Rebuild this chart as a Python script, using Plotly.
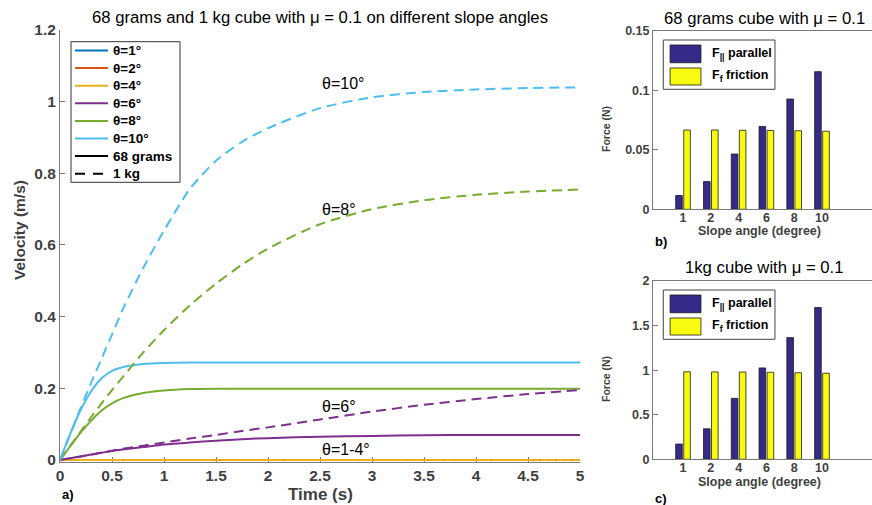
import plotly.graph_objects as go

W, H = 872, 505
FONT = "Liberation Sans, Arial, Helvetica, sans-serif"
AXIS_GREY = "#7a7a7a"
LABEL_GREY = "#3f3f3f"

# ---- Velocity vs time (panel a) ----
time_s = [0, 0.1, 0.2, 0.3, 0.4, 0.5, 0.6, 0.8, 1.0, 1.25, 1.5, 1.75,
          2.0, 2.5, 3.0, 3.5, 4.0, 4.5, 5.0]

angles = [1, 2, 4, 6, 8, 10]
angle_colors = ["#0072BD", "#D95319", "#EDB120", "#7E2F8E", "#77AC30", "#4DBEEE"]

# 68 gram cube
v68_1 = [0, 0, 0, 0, 0, 0, 0, 0, 0, 0, 0, 0, 0, 0, 0, 0, 0, 0, 0]
v68_2 = [0, 0, 0, 0, 0, 0, 0, 0, 0, 0, 0, 0, 0, 0, 0, 0, 0, 0, 0]
v68_4 = [0, 0, 0, 0, 0, 0, 0, 0, 0, 0, 0, 0, 0, 0, 0, 0, 0, 0, 0]
v68_6 = [0, 0.005, 0.010, 0.015, 0.020, 0.025, 0.029, 0.036, 0.043, 0.049,
         0.054, 0.058, 0.061, 0.065, 0.067, 0.069, 0.070, 0.070, 0.070]
v68_8 = [0, 0.039, 0.077, 0.110, 0.138, 0.158, 0.172, 0.187, 0.194, 0.198,
         0.199, 0.199, 0.199, 0.199, 0.199, 0.199, 0.199, 0.199, 0.199]
v68_10 = [0, 0.074, 0.140, 0.192, 0.228, 0.249, 0.259, 0.268, 0.271, 0.272,
          0.272, 0.272, 0.272, 0.272, 0.272, 0.272, 0.272, 0.272, 0.272]

# 1 kg cube
v1kg_1 = [0, 0, 0, 0, 0, 0, 0, 0, 0, 0, 0, 0, 0, 0, 0, 0, 0, 0, 0]
v1kg_2 = [0, 0, 0, 0, 0, 0, 0, 0, 0, 0, 0, 0, 0, 0, 0, 0, 0, 0, 0]
v1kg_4 = [0, 0, 0, 0, 0, 0, 0, 0, 0, 0, 0, 0, 0, 0, 0, 0, 0, 0, 0]
v1kg_6 = [0, 0.005, 0.010, 0.015, 0.021, 0.026, 0.031, 0.040, 0.049, 0.060,
          0.070, 0.081, 0.091, 0.113, 0.135, 0.154, 0.170, 0.184, 0.195]
v1kg_8 = [0, 0.040, 0.080, 0.120, 0.158, 0.195, 0.230, 0.300, 0.362, 0.432,
          0.492, 0.545, 0.590, 0.658, 0.700, 0.725, 0.740, 0.749, 0.755]
v1kg_10 = [0, 0.074, 0.146, 0.216, 0.283, 0.350, 0.418, 0.536, 0.640, 0.757,
           0.835, 0.888, 0.926, 0.982, 1.012, 1.027, 1.034, 1.038, 1.040]

v68_series = [v68_1, v68_2, v68_4, v68_6, v68_8, v68_10]
v1kg_series = [v1kg_1, v1kg_2, v1kg_4, v1kg_6, v1kg_8, v1kg_10]

# curve labels placed on the velocity plot
curve_label_text = ["θ=10°", "θ=8°", "θ=6°", "θ=1-4°"]
curve_label_t = [2.5, 2.5, 2.5, 2.5]
curve_label_v = [1.05, 0.70, 0.15, 0.03]

# legend entries of the velocity plot
legend_names = ["θ=1°", "θ=2°", "θ=4°", "θ=6°", "θ=8°", "θ=10°", "68 grams", "1 kg"]
legend_colors = angle_colors + ["black", "black"]
legend_dashes = ["solid"] * 6 + ["solid", "10px,8px"]

# ---- Forces per slope angle (panels b, c) ----
angle_labels = ["1", "2", "4", "6", "8", "10"]
f_par_68g = [0.0116, 0.0233, 0.0465, 0.0697, 0.0928, 0.1158]
f_fric_68g = [0.0667, 0.0667, 0.0665, 0.0663, 0.0661, 0.0657]
f_par_1kg = [0.171, 0.342, 0.684, 1.025, 1.365, 1.703]
f_fric_1kg = [0.981, 0.980, 0.979, 0.976, 0.971, 0.966]

BAR_NAVY = "#352A87"
BAR_YELLOW = "#F9FB0E"


def px_x(p):
    return p / W


def px_y(p):
    return 1 - p / H


fig = go.Figure()

# solid: 68 g cube
for ang, col, vals in zip(angles, angle_colors, v68_series):
    fig.add_trace(go.Scatter(
        x=time_s, y=vals, mode="lines", name=f"θ={ang}° (68 g)",
        line=dict(color=col, width=2, shape="spline", smoothing=0.7),
        showlegend=False, xaxis="x", yaxis="y"))

# dashed: 1 kg cube
for ang, col, vals in zip(angles, angle_colors, v1kg_series):
    fig.add_trace(go.Scatter(
        x=time_s, y=vals, mode="lines", name=f"θ={ang}° (1 kg)",
        line=dict(color=col, width=2, shape="spline", smoothing=0.7,
                  dash="10px,6px"),
        showlegend=False, xaxis="x", yaxis="y"))

# force bars
bar_line = dict(color="#1a1a1a", width=0.8)
for xa, ya, fpar, ffr in (("x2", "y2", f_par_68g, f_fric_68g),
                          ("x3", "y3", f_par_1kg, f_fric_1kg)):
    fig.add_trace(go.Bar(x=angle_labels, y=fpar, name="F parallel",
                         marker=dict(color=BAR_NAVY, line=bar_line),
                         showlegend=False, xaxis=xa, yaxis=ya))
    fig.add_trace(go.Bar(x=angle_labels, y=ffr, name="F friction",
                         marker=dict(color=BAR_YELLOW, line=bar_line),
                         showlegend=False, xaxis=xa, yaxis=ya))

tickfont_main = dict(family=FONT, size=15.5, color=LABEL_GREY, weight="bold")
tickfont_barx = dict(family=FONT, size=12.5, color=LABEL_GREY, weight="bold")
tickfont_bary = dict(family=FONT, size=12.5, color=LABEL_GREY, weight="bold")

common_axis = dict(showline=True, linecolor=AXIS_GREY, linewidth=1,
                   showgrid=False, zeroline=False, ticks="inside",
                   tickcolor=AXIS_GREY, ticklen=5, tickwidth=1,
                   automargin=False)

bar_xaxis = dict(range=[-1.08, 6.8], type="category", mirror=True,
                 showline=True, linecolor=AXIS_GREY, linewidth=1,
                 showgrid=False, zeroline=False, ticks="",
                 ticklabelstandoff=-3, tickfont=tickfont_barx,
                 automargin=False)

# the velocity axis starts a hair below zero so the resting (zero) curves
# stay fully visible on top of the time axis
layout_axes = dict(
    xaxis=dict(domain=[px_x(60), px_x(580)], range=[0, 5], dtick=0.5,
               tickfont=tickfont_main, anchor="y", layer="below traces",
               **common_axis),
    yaxis=dict(domain=[px_y(461.6), px_y(30)], range=[-0.0045, 1.2], dtick=0.2,
               tick0=0, tickfont=tickfont_main, anchor="x", layer="below traces",
               **common_axis),
    xaxis2=dict(domain=[px_x(653), 1.0], anchor="y2", **bar_xaxis),
    yaxis2=dict(domain=[px_y(209.3), px_y(31)], range=[0, 0.15], dtick=0.05,
                tickfont=tickfont_bary, anchor="x2", **common_axis),
    xaxis3=dict(domain=[px_x(653), 1.0], anchor="y3", **bar_xaxis),
    yaxis3=dict(domain=[px_y(459.3), px_y(281)], range=[0, 2], dtick=0.5,
                tickfont=tickfont_bary, anchor="x3", **common_axis),
)

annotations = []
shapes = []


def text(x, y, s, size, color="black", bold=False, angle=0,
         xanchor="center", yanchor="middle", xref="paper", yref="paper"):
    annotations.append(dict(
        x=x, y=y, text=s, showarrow=False, textangle=angle,
        xref=xref, yref=yref, xanchor=xanchor, yanchor=yanchor,
        font=dict(family=FONT, size=size, color=color,
                  weight="bold" if bold else "normal")))


# titles
text(px_x(320), px_y(17), "68 grams and 1 kg cube with μ = 0.1 on different slope angles", 16.7)
text(px_x(764), px_y(18), "68 grams cube with μ = 0.1", 16.7)
text(px_x(764), px_y(267), "1kg cube with μ = 0.1", 16.7)

# axis labels
text(px_x(20), px_y(230), "Velocity (m/s)", 15.5, LABEL_GREY, True, angle=-90)
text(px_x(320), px_y(494), "Time (s)", 17, LABEL_GREY, True)
text(px_x(606), px_y(129), "Force (N)", 10.5, LABEL_GREY, True, angle=-90)
text(px_x(606), px_y(379), "Force (N)", 10.5, LABEL_GREY, True, angle=-90)
text(px_x(759), px_y(231.5), "Slope angle (degree)", 12.5, LABEL_GREY, True)
text(px_x(759), px_y(481.5), "Slope angle (degree)", 12.5, LABEL_GREY, True)

# panel letters
text(px_x(60), px_y(494), "a)", 13, "black", True, xanchor="left")
text(px_x(653), px_y(241), "b)", 13, "black", True, xanchor="left")
text(px_x(653), px_y(498), "c)", 13, "black", True, xanchor="left")

# labels on curves
for s, t, v in zip(curve_label_text, curve_label_t, curve_label_v):
    text(t, v, s, 16, xanchor="left", xref="x", yref="y")

# legend of the velocity plot
shapes.append(dict(type="rect", xref="paper", yref="paper",
                   x0=px_x(71), x1=px_x(180), y0=px_y(182.3), y1=px_y(41.7),
                   line=dict(color="#333", width=1), fillcolor="white",
                   layer="above"))
for i, (name, col, dash) in enumerate(zip(legend_names, legend_colors, legend_dashes)):
    yc = 50.5 + 17.6 * i
    x_end = 103 if dash != "solid" else 108
    shapes.append(dict(type="line", xref="paper", yref="paper",
                       x0=px_x(75), x1=px_x(x_end), y0=px_y(yc), y1=px_y(yc),
                       line=dict(color=col, width=2, dash=dash), layer="above"))
    text(px_x(111), px_y(yc), name, 13.5, "black", True, xanchor="left")

# legend boxes of the force panels (axes-domain units)
for xa, ya in (("x2", "y2"), ("x3", "y3")):
    xr, yr = f"{xa} domain", f"{ya} domain"
    shapes.append(dict(type="rect", xref=xr, yref=yr, x0=0.047, x1=0.557,
                       y0=0.673, y1=0.9495, line=dict(color="#444", width=1),
                       fillcolor="white", layer="above"))
    shapes.append(dict(type="rect", xref=xr, yref=yr, x0=0.078, x1=0.219,
                       y0=0.822, y1=0.9215, line=dict(color="#1a1a1a", width=0.8),
                       fillcolor=BAR_NAVY, layer="above"))
    shapes.append(dict(type="rect", xref=xr, yref=yr, x0=0.078, x1=0.219,
                       y0=0.697, y1=0.7925, line=dict(color="#1a1a1a", width=0.8),
                       fillcolor=BAR_YELLOW, layer="above"))
    text(0.26, 0.872, "<b>F<sub>||</sub> parallel</b>", 12.5,
         xanchor="left", xref=xr, yref=yr)
    text(0.26, 0.745, "<b>F<sub>f</sub> friction</b>", 12.5,
         xanchor="left", xref=xr, yref=yr)

fig.update_layout(
    width=W, height=H, autosize=False,
    margin=dict(l=0, r=0, t=0, b=0, autoexpand=False),
    paper_bgcolor="white", plot_bgcolor="white",
    font=dict(family=FONT, color="black"),
    barmode="group", bargap=0.42, bargroupgap=0.18,
    showlegend=False,
    annotations=annotations,
    shapes=shapes,
    **layout_axes,
)

fig.write_html("out.html")
